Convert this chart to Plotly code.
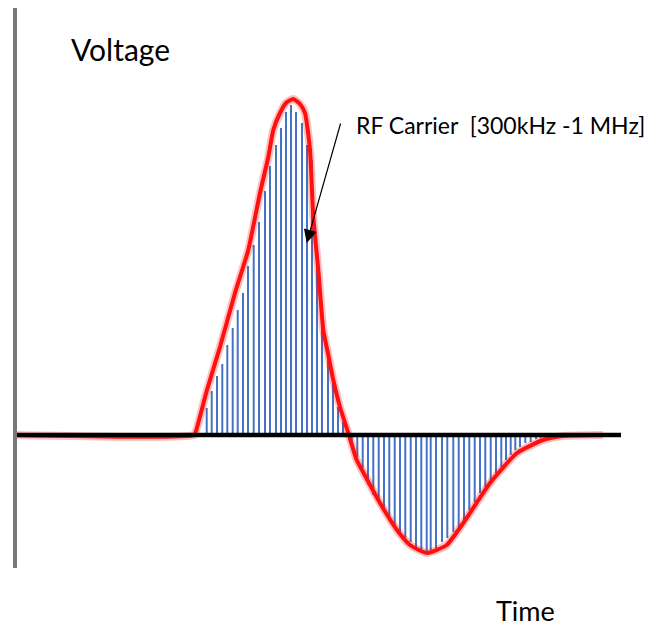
import plotly.graph_objects as go

# ---- data (time in arbitrary units, voltage in arbitrary units) ----
# RF carrier samples (blue vertical lines)
carrier_time = [206.7, 211.7, 217.0, 222.3, 227.3, 232.7, 237.7, 243.0, 248.0, 253.7,
                259.0, 265.0, 270.0, 276.0, 281.0, 286.0, 291.0, 296.0, 302.0, 307.0,
                312.0, 317.0, 322.0, 328.0, 333.0, 338.0, 343.0,
                351.7, 357.3, 362.7, 368.0, 373.3, 378.7, 384.0, 389.3, 394.7, 400.0,
                405.3, 410.7, 416.0, 421.3, 426.7, 430.7, 436.0, 442.0, 447.3, 453.3,
                458.7, 464.0, 469.3, 474.7, 480.0, 485.3, 490.7, 496.0, 501.3, 506.0,
                510.7, 515.3, 520.0, 525.3, 530.7, 536.0, 540.7, 546.0]
carrier_volt = [27, 44, 59, 71, 90, 107, 125, 142, 169, 190,
                213, 244, 269, 290, 307, 323, 330, 323, 312, 290,
                275, 170, 107, 80, 53, 28, 13,
                -8, -22, -33, -50, -60, -67, -75, -85, -93, -98,
                -103, -107, -113, -115, -118, -115, -113, -107, -103, -97,
                -92, -85, -75, -67, -58, -52, -45, -38, -32, -25,
                -20, -15, -12, -8, -7, -4, -3, -2]

# pulse envelope (red curve)
env_time = [15, 194, 196, 206.7, 220, 235, 248.3, 260, 268.3, 273.3, 280, 286, 293.3, 300,
            305, 310, 313.3, 318.3, 323.3, 328.3, 333.3, 340, 348.3, 356.7, 362,
            380, 397, 410, 427, 446.7, 463.3, 490, 517, 543, 563, 603]
env_volt = [0, 0, 4, 44, 88, 142, 185, 242, 278, 305, 322, 332, 336, 331,
            322, 285, 218, 165, 105, 80, 55, 28, 2, -25, -35,
            -68, -95, -110, -118, -110, -88, -48, -18, -5, -1, 0]

# axes extents
time_axis = [16, 621]
volt_axis = [-133, 427]
axis_time_pos = 15

labels = {"y": "Voltage", "x": "Time", "note": "RF Carrier  [300kHz -1 MHz]"}
arrow_tip = (306.7, 192)
arrow_tail = (341, 313)

FONT = "Lato"

fig = go.Figure()

# carrier lines
xs, ys = [], []
for t, v in zip(carrier_time, carrier_volt):
    xs += [t, t, None]
    ys += [0, v, None]
fig.add_trace(go.Scatter(x=xs, y=ys, mode="lines",
                         line=dict(color="#4472C4", width=2), hoverinfo="skip"))

# envelope glow + core
fig.add_trace(go.Scatter(x=env_time, y=env_volt, mode="lines",
                         line=dict(color="rgba(255,0,0,0.25)", width=8, shape="spline", smoothing=0.5),
                         hoverinfo="skip"))
fig.add_trace(go.Scatter(x=env_time, y=env_volt, mode="lines",
                         line=dict(color="#FF1010", width=4, shape="spline", smoothing=0.5),
                         hoverinfo="skip"))

# baseline (time axis)
fig.add_trace(go.Scatter(x=time_axis, y=[0, 0], mode="lines",
                         line=dict(color="black", width=4.5), hoverinfo="skip"))

# vertical voltage axis
fig.add_shape(type="line", x0=axis_time_pos, x1=axis_time_pos, y0=volt_axis[0], y1=volt_axis[1],
              xref="x", yref="y", line=dict(color="#7a7a7a", width=4))

fig.add_annotation(x=69, y=386, xref="x", yref="y", text=labels["y"], showarrow=False,
                   xanchor="left", yanchor="middle", font=dict(family=FONT, size=30, color="black"))
fig.add_annotation(x=494, y=-175, xref="x", yref="y", text=labels["x"], showarrow=False,
                   xanchor="left", yanchor="middle", font=dict(family=FONT, size=27, color="black"))
fig.add_annotation(x=354, y=310, xref="x", yref="y", text=labels["note"], showarrow=False,
                   xanchor="left", yanchor="middle", font=dict(family=FONT, size=23, color="black"))
fig.add_annotation(x=arrow_tip[0], y=arrow_tip[1], ax=arrow_tail[0], ay=arrow_tail[1],
                   xref="x", yref="y", axref="x", ayref="y", text="", showarrow=True,
                   arrowhead=2, arrowsize=2.2, arrowwidth=1.2, arrowcolor="black")

fig.update_layout(width=646, height=627, autosize=False,
                  margin=dict(l=0, r=0, t=0, b=0),
                  paper_bgcolor="white", plot_bgcolor="white", showlegend=False,
                  xaxis=dict(range=[0, 646], visible=False, fixedrange=True),
                  yaxis=dict(range=[-192, 435], visible=False, fixedrange=True))

fig.write_html("out.html", config={"displayModeBar": False},
               post_script="document.body.style.margin='0px';")
